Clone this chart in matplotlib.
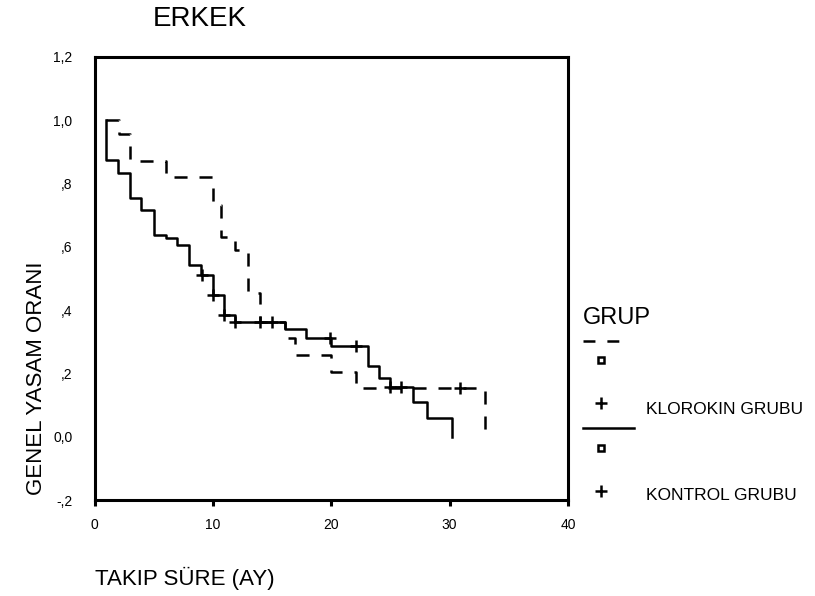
import matplotlib
matplotlib.use("Agg")
import matplotlib.pyplot as plt
from matplotlib.lines import Line2D
import numpy as np

plt.rcParams['font.family'] = ['Liberation Sans', 'DejaVu Sans']
plt.rcParams['lines.scale_dashes'] = False

title = "ERKEK"
x_label = "TAKIP SÜRE (AY)"
y_label = "GENEL YASAM ORANI"
legend_title = "GRUP"
group_names = ["KLOROKIN GRUBU", "KONTROL GRUBU"]

x_ticks = [0, 10, 20, 30, 40]
y_ticks = [-0.2, 0.0, 0.2, 0.4, 0.6, 0.8, 1.0, 1.2]
y_tick_labels = ["-,2", "0,0", ",2", ",4", ",6", ",8", "1,0", "1,2"]

start_time = 1.0
start_surv = 1.0

# KLOROKIN GRUBU (dashed)
klor_times = [2.07, 3.0, 6.0, 10.0, 10.7, 11.9, 13.0, 14.0, 16.1, 16.9, 20.0, 22.1, 33.0]
klor_surv = [0.957, 0.870, 0.822, 0.731, 0.632, 0.590, 0.455, 0.363, 0.311, 0.258, 0.206, 0.153, 0.0]
klor_censor = [30.9]

# KONTROL GRUBU (solid)
kont_times = [1.0, 2.0, 3.0, 3.9, 5.0, 6.0, 7.0, 8.0, 9.0, 10.0, 10.9, 11.9, 16.1, 17.9, 20.0,
              23.1, 24.0, 25.0, 26.9, 28.1, 30.2]
kont_surv = [0.875, 0.833, 0.754, 0.717, 0.637, 0.627, 0.606, 0.543, 0.511, 0.448, 0.385, 0.363,
             0.339, 0.311, 0.287, 0.224, 0.187, 0.158, 0.110, 0.058, 0.0]
kont_censor = [9.05, 10.05, 10.9, 11.9, 14.0, 15.0, 19.9, 22.1, 25.0, 25.9]


def surv_at(times, surv, t):
    s = start_surv
    for ti, si in zip(times, surv):
        if ti <= t:
            s = si
    return s


fig = plt.figure(figsize=(8.15, 5.96), dpi=100)
ax = fig.add_axes([94.5 / 815, 1 - 500 / 596, (568 - 94.5) / 815, (500 - 57) / 596])

lw = 1.8
kx = [start_time] + klor_times
ky = [start_surv] + klor_surv
ax.step(kx, ky, where='post', color='black', lw=lw, linestyle=(0, (9.4, 8.6)))
cx = [start_time] + kont_times
cy = [start_surv] + kont_surv
ax.step(cx, cy, where='post', color='black', lw=lw, linestyle='-')

ax.plot(klor_censor, [surv_at(klor_times, klor_surv, t) for t in klor_censor], linestyle='none',
        marker='+', color='black', markersize=9, mew=1.8)
ax.plot(kont_censor, [surv_at(kont_times, kont_surv, t) for t in kont_censor], linestyle='none',
        marker='+', color='black', markersize=9, mew=1.8)

ax.set_xlim(0, 40)
ax.set_ylim(-0.2, 1.2)
ax.set_xticks(x_ticks)
ax.set_xticklabels([str(v) for v in x_ticks])
ax.set_yticks(y_ticks)
ax.set_yticklabels(y_tick_labels)
ax.tick_params(axis='x', length=4, width=2.2, pad=9, labelsize=10)
ax.tick_params(axis='y', length=0, pad=16, labelsize=10)
for sp in ax.spines.values():
    sp.set_linewidth(2.2)

fig.text(153 / 815, 1 - 19 / 596, title, fontsize=20, ha='left', va='center')
fig.text(95 / 815, 1 - 578 / 596, x_label, fontsize=16, ha='left', va='center')
fig.text(37 / 815, 1 - 378 / 596, y_label, fontsize=16, ha='center', va='center', rotation=90)

# legend
fig.text(583 / 815, 1 - 318 / 596, legend_title, fontsize=17, ha='left', va='center')
fig.add_artist(Line2D([583 / 815, 619 / 815], [1 - 341 / 596, 1 - 341 / 596], color='black', lw=lw,
                      linestyle=(0, (8.6, 8.6))))
fig.add_artist(Line2D([601 / 815], [1 - 360 / 596], marker='s', markersize=5, color='black',
                      markerfacecolor='white', mew=1.8, linestyle='none'))
fig.add_artist(Line2D([601 / 815], [1 - 403 / 596], marker='+', markersize=9, color='black',
                      mew=1.8, linestyle='none'))
fig.text(646 / 815, 1 - 409 / 596, group_names[0], fontsize=12.5, ha='left', va='center')
fig.add_artist(Line2D([583 / 815, 634 / 815], [1 - 428 / 596, 1 - 428 / 596], color='black', lw=lw))
fig.add_artist(Line2D([601 / 815], [1 - 448 / 596], marker='s', markersize=5, color='black',
                      markerfacecolor='white', mew=1.8, linestyle='none'))
fig.add_artist(Line2D([601 / 815], [1 - 491 / 596], marker='+', markersize=9, color='black',
                      mew=1.8, linestyle='none'))
fig.text(646 / 815, 1 - 496 / 596, group_names[1], fontsize=12.5, ha='left', va='center')

fig.savefig("out.png", dpi=100)
